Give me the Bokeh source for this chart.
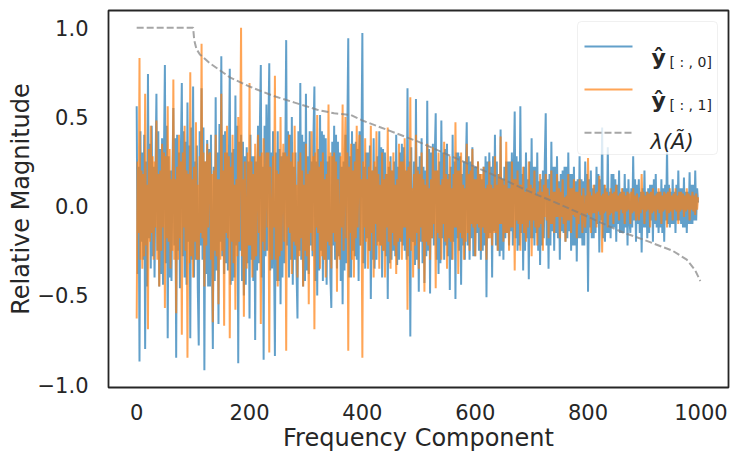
import numpy as np
from bokeh.plotting import figure
from bokeh.models import Range1d, FixedTicker, CustomJSTickFormatter, BoxAnnotation, Label
from bokeh.embed import file_html
from bokeh.resources import INLINE

# ---------------- data ----------------
step = 5  # main readings every 5 frequency components

# main readings (peaks / troughs) of y_hat[:, 0]
y_hat_0 = [
    0.56, -0.87, 0.30, -0.80, 0.74, -0.35, 0.22, 0.63, -0.45, 0.38,
    0.79, -0.74, 0.20, 0.55, -0.85, 0.30, 0.69, -0.40, 0.58, -0.74,
    0.67, -0.30, -0.78, 0.66, -0.92, 0.37, -0.45, -0.80, 0.61, -0.66,
    0.84, -0.38, 0.30, 0.77, -0.42, 0.62, -0.88, 0.40, -0.50, 0.33,
    -0.63, 0.28, -0.75, 0.45, 0.79, -0.86, 0.57, 0.80, -0.35, -0.84,
    0.42, -0.55, 0.30, 0.93, -0.40, 0.50, -0.30, -0.63, 0.69, -0.45,
    0.63, -0.38, 0.25, 0.67, -0.50, 0.51, -0.42, 0.38, -0.30, -0.57,
    0.45, -0.35, 0.30, -0.55, 0.40, 0.94, -0.40, 0.35, -0.30, 0.42,
    0.97, -0.35, 0.30, -0.52, 0.38, -0.30, 0.42, -0.40, 0.30, -0.52,
    0.28, -0.25, 0.40, -0.30, 0.35, -0.25, 0.66, -0.73, -0.20, 0.60,
    -0.48, 0.38, -0.43, 0.59, -0.49, 0.35, 0.52, -0.38, 0.48, -0.30,
    0.35, -0.47, 0.40, -0.52, 0.30, -0.44, 0.25, 0.47, -0.30, 0.33,
    -0.28, 0.25, -0.30, 0.22, -0.51, 0.30, -0.40, 0.40, -0.25, 0.43,
    -0.30, 0.25, -0.22, 0.30, 0.53, -0.25, 0.56, -0.36, 0.30, -0.41,
    0.38, -0.22, 0.30, -0.33, 0.20, 0.52, -0.35, 0.36, -0.25, 0.28,
    -0.30, 0.20, -0.20, 0.30, -0.25, 0.22, -0.31, 0.28, -0.22, 0.25,
    -0.48, 0.20, -0.18, 0.22, -0.26, 0.44, -0.20, 0.33, -0.18, 0.18,
    -0.20, 0.20, -0.15, 0.18, -0.22, -0.15, 0.28, -0.20, 0.15, -0.26,
    0.20, -0.18, 0.12, -0.20, 0.18, -0.15, 0.15, -0.20, 0.33, -0.12,
    0.15, -0.15, 0.20, -0.10, 0.16, -0.15, 0.19, -0.10, 0.20, 0.02,
]

# in-between readings of y_hat[:, 0] (two per interval, body of the band)
y_hat_0_mid = [
    -0.38, 0.22, 0.42, -0.20, -0.30, 0.40, 0.25, -0.45, -0.18, 0.35, 0.45, -0.28, -0.40, 0.20, -0.25, 0.42, 0.32, -0.38, -0.44, 0.28,
    -0.32, 0.45, 0.28, -0.40, -0.42, 0.18, -0.22, 0.38, 0.40, -0.25, -0.46, 0.30, -0.28, 0.42, 0.36, -0.44, -0.20, 0.34, 0.44, -0.30,
    -0.40, 0.25, 0.34, -0.46, 0.42, -0.22, -0.30, 0.44, 0.25, -0.38, -0.45, 0.32, 0.40, -0.28, 0.22, -0.42, -0.36, 0.30, 0.46, -0.20,
    -0.28, 0.40, 0.42, -0.32, -0.36, 0.22, -0.44, 0.30, 0.32, -0.40, -0.22, 0.45, 0.36, -0.25, -0.42, 0.36, 0.28, -0.44, -0.32, 0.25,
    0.40, -0.30, -0.42, 0.28, 0.25, -0.36, -0.32, 0.44, -0.40, 0.22, 0.45, -0.28, -0.25, 0.40, -0.36, 0.30, 0.42, -0.22, 0.30, -0.42,
    -0.42, 0.32, 0.28, -0.40, -0.32, 0.25, -0.22, 0.42, 0.40, -0.30, -0.44, 0.22, 0.30, -0.36, 0.42, -0.25, -0.30, 0.40, 0.36, -0.42,
    -0.36, 0.28, 0.42, -0.22, -0.28, 0.40, -0.42, 0.25, 0.32, -0.36, -0.25, 0.42, 0.40, -0.30, -0.44, 0.25, 0.28, -0.40, 0.36, -0.22,
    -0.30, 0.40, 0.36, -0.28, -0.42, 0.22, 0.25, -0.36, -0.32, 0.42, -0.40, 0.28, 0.42, -0.25, -0.28, 0.36, 0.32, -0.42, -0.22, 0.30,
    -0.32, 0.22, 0.30, -0.18, -0.25, 0.34, 0.20, -0.30, -0.35, 0.22, 0.28, -0.20, -0.22, 0.33, 0.32, -0.25, -0.28, 0.18, 0.22, -0.32,
    -0.30, 0.20, 0.25, -0.28, -0.33, 0.22, 0.30, -0.20, -0.22, 0.33, 0.20, -0.30, -0.28, 0.25, 0.33, -0.18, 0.25, -0.33, -0.30, 0.22,
    0.28, -0.20, -0.32, 0.22, 0.20, -0.28, -0.25, 0.32, 0.30, -0.18, -0.22, 0.28, -0.30, 0.20, 0.25, -0.32, -0.18, 0.30, 0.32, -0.22,
    -0.28, 0.18, 0.22, -0.30, -0.20, 0.25, 0.30, -0.18, -0.25, 0.28, 0.18, -0.22, -0.30, 0.20, -0.22, 0.28, 0.25, -0.18, -0.28, 0.22,
    0.22, -0.15, -0.25, 0.18, 0.15, -0.25, -0.22, 0.28, 0.25, -0.18, -0.15, 0.22, 0.28, -0.14, -0.22, 0.25, 0.18, -0.28, -0.25, 0.15,
    0.22, -0.18, -0.15, 0.25, 0.25, -0.14, -0.22, 0.18, -0.18, 0.28, 0.25, -0.22, -0.15, 0.18, 0.22, -0.25, -0.18, 0.15, 0.25, -0.18,
    -0.18, 0.22, 0.22, -0.15, -0.25, 0.14, 0.15, -0.22, -0.18, 0.25, -0.22, 0.15, 0.18, -0.22, -0.14, 0.22, 0.22, -0.15, -0.18, 0.14,
    0.18, -0.14, -0.15, 0.22, 0.22, -0.18, -0.14, 0.18, 0.18, -0.22, -0.22, 0.14, 0.15, -0.18, -0.18, 0.15, 0.14, -0.22, -0.15, 0.18,
    0.15, -0.12, -0.18, 0.10, 0.12, -0.15, -0.10, 0.18, 0.15, -0.08, -0.18, 0.12, 0.10, -0.15, -0.15, 0.08, 0.18, -0.12, -0.12, 0.15,
    0.12, -0.10, -0.15, 0.08, 0.10, -0.15, -0.12, 0.10, 0.15, -0.08, 0.10, -0.12, -0.08, 0.15, 0.12, -0.10, -0.15, 0.08, 0.10, -0.12,
    -0.12, 0.08, 0.10, -0.15, -0.08, 0.12, 0.15, -0.10, -0.12, 0.08, 0.08, -0.12, -0.15, 0.10, 0.12, -0.08, -0.10, 0.12, 0.08, -0.10,
    -0.10, 0.08, 0.12, -0.08, -0.08, 0.10, 0.10, -0.12, -0.12, 0.08, 0.08, -0.10, -0.10, 0.12, 0.12, -0.08, -0.08, 0.10,
]

# main readings (peaks / troughs) of y_hat[:, 1]
y_hat_1 = [
    -0.63, 0.83, -0.35, 0.63, -0.69, 0.45, -0.30, 0.48, -0.45, 0.35,
    -0.57, 0.56, -0.35, 0.71, -0.60, 0.40, -0.72, 0.45, -0.85, 0.75,
    -0.40, 0.47, -0.30, 0.91, -0.45, 0.35, 0.30, -0.65, 0.40, -0.55,
    0.63, -0.67, 0.45, -0.74, 0.40, -0.58, 0.50, 1.00, -0.62, -0.35,
    0.69, -0.40, 0.35, 0.40, -0.66, 0.38, 0.30, -0.82, -0.30, 0.73,
    -0.45, 0.50, 0.35, -0.81, 0.40, -0.38, 0.45, -0.40, 0.30, -0.45,
    0.35, -0.55, 0.42, -0.69, 0.51, -0.35, 0.30, -0.40, 0.57, -0.35,
    0.30, -0.48, -0.30, 0.57, 0.50, -0.81, 0.35, -0.40, 0.45, 0.40,
    -0.85, 0.38, -0.35, 0.45, -0.40, 0.42, -0.35, 0.30, -0.40, 0.44,
    -0.35, 0.30, -0.38, 0.35, -0.30, 0.38, -0.58, 0.61, -0.40, 0.40,
    -0.35, 0.30, -0.48, 0.35, -0.30, 0.33, -0.46, 0.30, -0.30, 0.36,
    -0.35, 0.28, -0.30, 0.47, -0.38, 0.30, -0.30, 0.35, -0.25, 0.32,
    -0.28, 0.25, -0.25, 0.22, -0.30, 0.25, -0.22, 0.28, -0.25, 0.39,
    -0.20, 0.36, -0.25, 0.25, -0.36, 0.20, -0.25, 0.22, -0.20, 0.25,
    -0.28, 0.20, -0.22, 0.18, -0.25, 0.18, -0.18, 0.20, -0.15, 0.18,
    -0.18, 0.15, -0.20, 0.18, -0.15, 0.15, -0.18, 0.15, -0.15, -0.12,
    0.27, -0.15, 0.12, -0.12, 0.17, -0.26, 0.12, -0.12, 0.10, -0.10,
    0.12, -0.08, 0.10, -0.10, 0.08, -0.10, 0.10, -0.08, -0.08, 0.18,
    -0.10, 0.08, -0.12, 0.10, -0.08, 0.10, -0.10, 0.08, -0.12, 0.10,
    -0.08, 0.10, -0.10, 0.08, -0.06, 0.10, -0.08, 0.08, -0.05, 0.05,
]

# in-between readings of y_hat[:, 1]
y_hat_1_mid = [
    0.25, -0.15, -0.30, 0.20, 0.18, -0.28, -0.22, 0.12, 0.32, -0.20, -0.15, 0.28, 0.25, -0.12, -0.30, 0.18, 0.20, -0.25, -0.12, 0.30,
    0.28, -0.18, -0.20, 0.32, 0.15, -0.25, -0.30, 0.15, 0.22, -0.30, -0.18, 0.25, 0.30, -0.12, -0.25, 0.20, 0.18, -0.32, -0.28, 0.15,
    0.22, -0.20, -0.30, 0.12, 0.28, -0.15, -0.18, 0.30, 0.25, -0.22, -0.12, 0.28, -0.30, 0.18, 0.20, -0.25, -0.28, 0.15, 0.15, -0.30,
    -0.25, 0.20, 0.30, -0.15, -0.18, 0.28, 0.22, -0.20, -0.32, 0.12, 0.15, -0.28, -0.20, 0.30, -0.28, 0.15, 0.25, -0.18, 0.30, -0.22,
    -0.22, 0.25, 0.18, -0.30, -0.28, 0.12, -0.15, 0.28, 0.30, -0.20, -0.25, 0.15, -0.12, 0.30, 0.22, -0.18, 0.28, -0.12, -0.30, 0.20,
    0.18, -0.28, -0.25, 0.15, -0.20, 0.30, 0.28, -0.12, -0.15, 0.25, 0.30, -0.20, -0.22, 0.12, 0.25, -0.28, -0.18, 0.20, 0.12, -0.25,
    -0.28, 0.18, 0.20, -0.15, -0.25, 0.28, 0.30, -0.12, -0.15, 0.22, 0.25, -0.28, -0.30, 0.15, 0.18, -0.20, -0.22, 0.30, 0.28, -0.15,
    -0.20, 0.25, 0.15, -0.22, 0.28, -0.12, -0.25, 0.18, -0.18, 0.30, 0.22, -0.15, -0.30, 0.20, 0.25, -0.18, -0.12, 0.28, -0.22, 0.15,
    0.25, -0.12, -0.20, 0.15, 0.22, -0.25, -0.15, 0.20, 0.25, -0.10, -0.22, 0.18, 0.12, -0.22, -0.25, 0.15, 0.18, -0.12, -0.20, 0.25,
    0.20, -0.15, -0.22, 0.12, 0.15, -0.20, -0.18, 0.25, 0.25, -0.12, -0.12, 0.20, 0.22, -0.18, -0.25, 0.10, 0.18, -0.22, -0.15, 0.20,
    0.18, -0.12, -0.20, 0.15, 0.12, -0.20, -0.22, 0.10, 0.15, -0.18, -0.10, 0.20, 0.20, -0.15, -0.18, 0.12, 0.15, -0.10, -0.20, 0.18,
    0.15, -0.18, -0.20, 0.10, 0.18, -0.12, -0.12, 0.20, 0.20, -0.15, -0.18, 0.12, 0.10, -0.20, -0.15, 0.18, 0.20, -0.10, -0.12, 0.15,
    0.15, -0.10, -0.12, 0.18, 0.18, -0.12, -0.15, 0.10, 0.12, -0.18, -0.18, 0.12, 0.10, -0.15, -0.15, 0.12, 0.18, -0.10, -0.10, 0.15,
    0.12, -0.15, -0.15, 0.10, 0.10, -0.12, -0.12, 0.15, 0.15, -0.08, -0.10, 0.12, 0.12, -0.10, -0.15, 0.08, 0.10, -0.12, -0.08, 0.12,
    0.10, -0.08, -0.12, 0.06, 0.08, -0.12, -0.10, 0.08, 0.12, -0.06, -0.08, 0.10, 0.06, -0.10, -0.10, 0.08, 0.08, -0.06, -0.06, 0.10,
    0.08, -0.06, -0.10, 0.05, 0.06, -0.08, -0.08, 0.10, 0.10, -0.05, -0.06, 0.08, 0.08, -0.10, -0.05, 0.06, 0.10, -0.05, 0.06, -0.04,
    -0.05, 0.08, 0.06, -0.04, -0.04, 0.07, 0.08, -0.03, -0.05, 0.06, 0.07, -0.04, -0.03, 0.08, 0.06, -0.05, -0.04, 0.07, 0.08, -0.03,
    -0.03, 0.06, 0.07, -0.02, -0.04, 0.08, 0.06, -0.03, -0.02, 0.07, 0.08, -0.04, -0.03, 0.06, 0.07, -0.02, 0.05, -0.04, -0.02, 0.08,
    0.06, -0.03, -0.02, 0.07, 0.08, -0.04, -0.03, 0.06, 0.07, -0.02, -0.04, 0.08, 0.06, -0.03, -0.02, 0.07, 0.08, -0.04, -0.03, 0.06,
    0.07, -0.02, -0.03, 0.06, 0.08, -0.03, -0.02, 0.07, 0.06, -0.03, -0.02, 0.07, 0.06, -0.02, -0.03, 0.06, 0.07, -0.02,
]

lambda_idx = [0, 100, 102, 106, 112, 130, 166, 200, 240, 280, 320, 350, 380, 400,
              450, 500, 550, 600, 650, 690, 750, 800, 860, 900, 950, 975, 990, 999]
lambda_val = [1.0, 1.0, 0.93, 0.88, 0.85, 0.80, 0.72, 0.67, 0.62, 0.58, 0.54, 0.52, 0.51, 0.48,
              0.42, 0.36, 0.29, 0.22, 0.15, 0.09, 0.01, -0.06, -0.145, -0.19, -0.25, -0.30, -0.36, -0.42]

x_ticks = [0, 200, 400, 600, 800, 1000]
y_ticks = [-1.0, -0.5, 0.0, 0.5, 1.0]

legend_labels = ["ŷ", "[ : , 0]", "ŷ", "[ : , 1]", "λ(Ã)"]


def assemble(main, mid):
    """Interleave the main readings with the two in-between readings of each interval."""
    xs, ys = [], []
    for k, v in enumerate(main):
        xs.append(k * step)
        ys.append(v)
        if k < len(main) - 1:
            xs += [k * step + step / 3, k * step + 2 * step / 3]
            ys += [mid[2 * k], mid[2 * k + 1]]
    return np.array(xs), np.array(ys)


x0s, y0s = assemble(y_hat_0, y_hat_0_mid)
x1s, y1s = assemble(y_hat_1, y_hat_1_mid)

# ---------------- layout ----------------
X0, X1 = -49.95, 1048.95
Y0, Y1 = -1.016, 1.096
FL, FT, FW, FH = 108, 10, 620, 377   # frame position in page pixels


def dx(px):
    return X0 + (px - FL) / FW * (X1 - X0)


def dy(py):
    return Y1 - (py - FT) / FH * (Y1 - Y0)


INK = "#262626"
BLUE, ORANGE, GRAY = "#1f77b4", "#ff7f0e", "#808080"
FONT = "DejaVu Sans"

p = figure(frame_width=FW, frame_height=FH, output_backend="svg", toolbar_location=None,
           x_range=Range1d(X0, X1), y_range=Range1d(Y0, Y1),
           min_border_left=FL, min_border_right=3, min_border_top=FT, min_border_bottom=68)

p.background_fill_color = "white"
p.border_fill_color = "white"
p.grid.visible = False
p.outline_line_color = INK
p.outline_line_width = 1.8
p.outline_line_alpha = 1.0

p.line(x0s, y0s, line_color=BLUE, line_alpha=0.7, line_width=2)
p.line(x1s, y1s, line_color=ORANGE, line_alpha=0.7, line_width=2)
p.line(lambda_idx, lambda_val, line_color=GRAY, line_alpha=0.7, line_width=2, line_dash="7 3")

for ax in (p.xaxis[0], p.yaxis[0]):
    ax.axis_line_color = None
    ax.major_tick_line_color = None
    ax.minor_tick_line_color = None
    ax.major_label_text_font = FONT
    ax.major_label_text_font_size = "21px"
    ax.major_label_text_color = INK
    ax.axis_label_text_font = FONT
    ax.axis_label_text_font_size = "24px"
    ax.axis_label_text_font_style = "normal"
    ax.axis_label_text_color = INK

p.xaxis.ticker = FixedTicker(ticks=x_ticks)
p.yaxis.ticker = FixedTicker(ticks=y_ticks)
p.yaxis.formatter = CustomJSTickFormatter(code="return tick.toFixed(1).replace('-', '\u2212')")
p.xaxis.axis_label = "Frequency Component"
p.yaxis.axis_label = "Relative Magnitude"
p.xaxis.major_label_standoff = 10
p.yaxis.major_label_standoff = 14
p.xaxis.axis_label_standoff = 1
p.yaxis.axis_label_standoff = 0

# ---------------- legend ----------------
box = BoxAnnotation(left=dx(577), right=dx(717), top=dy(21), bottom=dy(154),
                    fill_color="white", fill_alpha=0.8, line_color="#cccccc",
                    line_width=1, border_radius=4)
p.add_layout(box)

rows = [46, 89, 132.3]
styles = [(BLUE, None), (ORANGE, None), (GRAY, "7 3")]
for ry, (c, dash) in zip(rows, styles):
    kw = dict(line_color=c, line_alpha=0.7, line_width=2, level="overlay")
    if dash:
        kw["line_dash"] = dash
    p.line([dx(584), dx(632)], [dy(ry), dy(ry)], **kw)


def lab(text, px, py, size, style="normal"):
    p.add_layout(Label(x=dx(px), y=dy(py), text=text, text_font=FONT, text_font_size=size,
                       text_font_style=style, text_color=INK, text_baseline="alphabetic",
                       text_align="left", level="overlay"))


lab(legend_labels[0], 651, 57, "22px", "bold")
lab(legend_labels[1], 669, 61, "14px")
lab(legend_labels[2], 651, 100, "22px", "bold")
lab(legend_labels[3], 669, 104, "14px")
lab(legend_labels[4], 650, 141, "21px", "italic")

open("out.html", "w").write(file_html(p, INLINE))
